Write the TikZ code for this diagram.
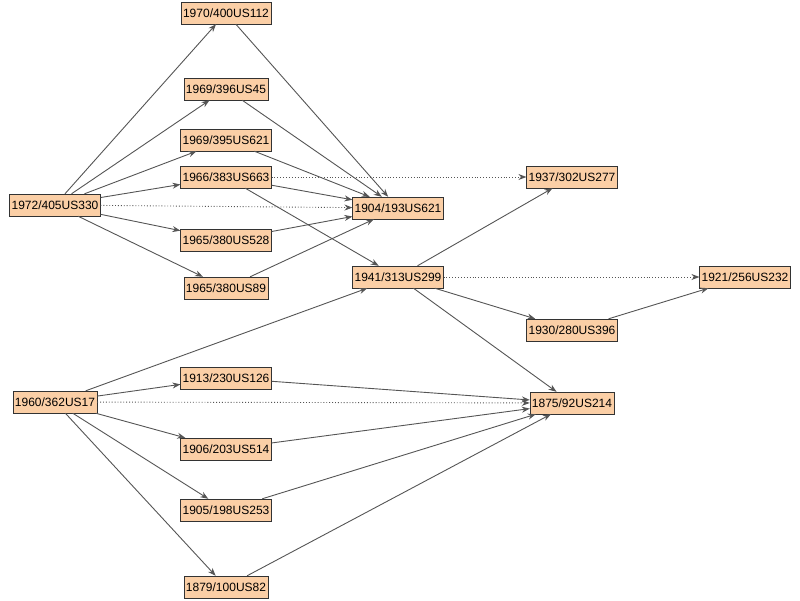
\documentclass[tikz,border=0pt]{standalone}
\usepackage{fontspec}
\setmainfont{Liberation Sans}
\usetikzlibrary{arrows.meta}
\definecolor{boxfill}{HTML}{FBCFA6}
\definecolor{edge}{HTML}{555555}
\begin{document}
\begin{tikzpicture}[x=1pt,y=-1pt,
  box/.style={draw=black!80,fill=boxfill,font=\fontsize{12}{14}\selectfont,inner sep=2pt,minimum height=22pt},
  e/.style={draw=edge,line width=0.9pt,-{Stealth[length=8pt,width=6pt]}},
  d/.style={e,dotted}]
\useasboundingbox (0,0) rectangle (800,600);
\node[box] (a1970) at (226,13) {1970/400US112};
\node[box] (a1969a) at (226,89) {1969/396US45};
\node[box] (a1969b) at (226,140) {1969/395US621};
\node[box] (a1966) at (226,177) {1966/383US663};
\node[box] (a1972) at (55,205) {1972/405US330};
\node[box] (a1904) at (398,208) {1904/193US621};
\node[box] (a1965a) at (226,240) {1965/380US528};
\node[box] (a1965b) at (226,288) {1965/380US89};
\node[box] (a1941) at (398,277) {1941/313US299};
\node[box] (a1937) at (572,177) {1937/302US277};
\node[box] (a1921) at (745,277) {1921/256US232};
\node[box] (a1930) at (572,330) {1930/280US396};
\node[box] (a1913) at (226,378) {1913/230US126};
\node[box] (a1960) at (55,402) {1960/362US17};
\node[box] (a1875) at (572,403) {1875/92US214};
\node[box] (a1906) at (226,449) {1906/203US514};
\node[box] (a1905) at (226,510) {1905/198US253};
\node[box] (a1879) at (226,587) {1879/100US82};
\foreach \t in {a1970,a1969a,a1969b,a1966,a1965a,a1965b} \draw[e] (a1972) -- (\t);
\draw[d] (a1972) -- (a1904);
\foreach \s in {a1970,a1969a,a1969b,a1966,a1965a,a1965b} \draw[e] (\s) -- (a1904);
\draw[d] (a1966) -- (a1937);
\draw[e] (a1966) -- (a1941);
\draw[e] (a1941) -- (a1937);
\draw[d] (a1941) -- (a1921);
\draw[e] (a1941) -- (a1930);
\draw[e] (a1941) -- (a1875);
\draw[e] (a1930) -- (a1921);
\foreach \t in {a1941,a1913,a1906,a1905,a1879} \draw[e] (a1960) -- (\t);
\draw[d] (a1960) -- (a1875);
\foreach \s in {a1913,a1906,a1905,a1879} \draw[e] (\s) -- (a1875);
\end{tikzpicture}
\end{document}
